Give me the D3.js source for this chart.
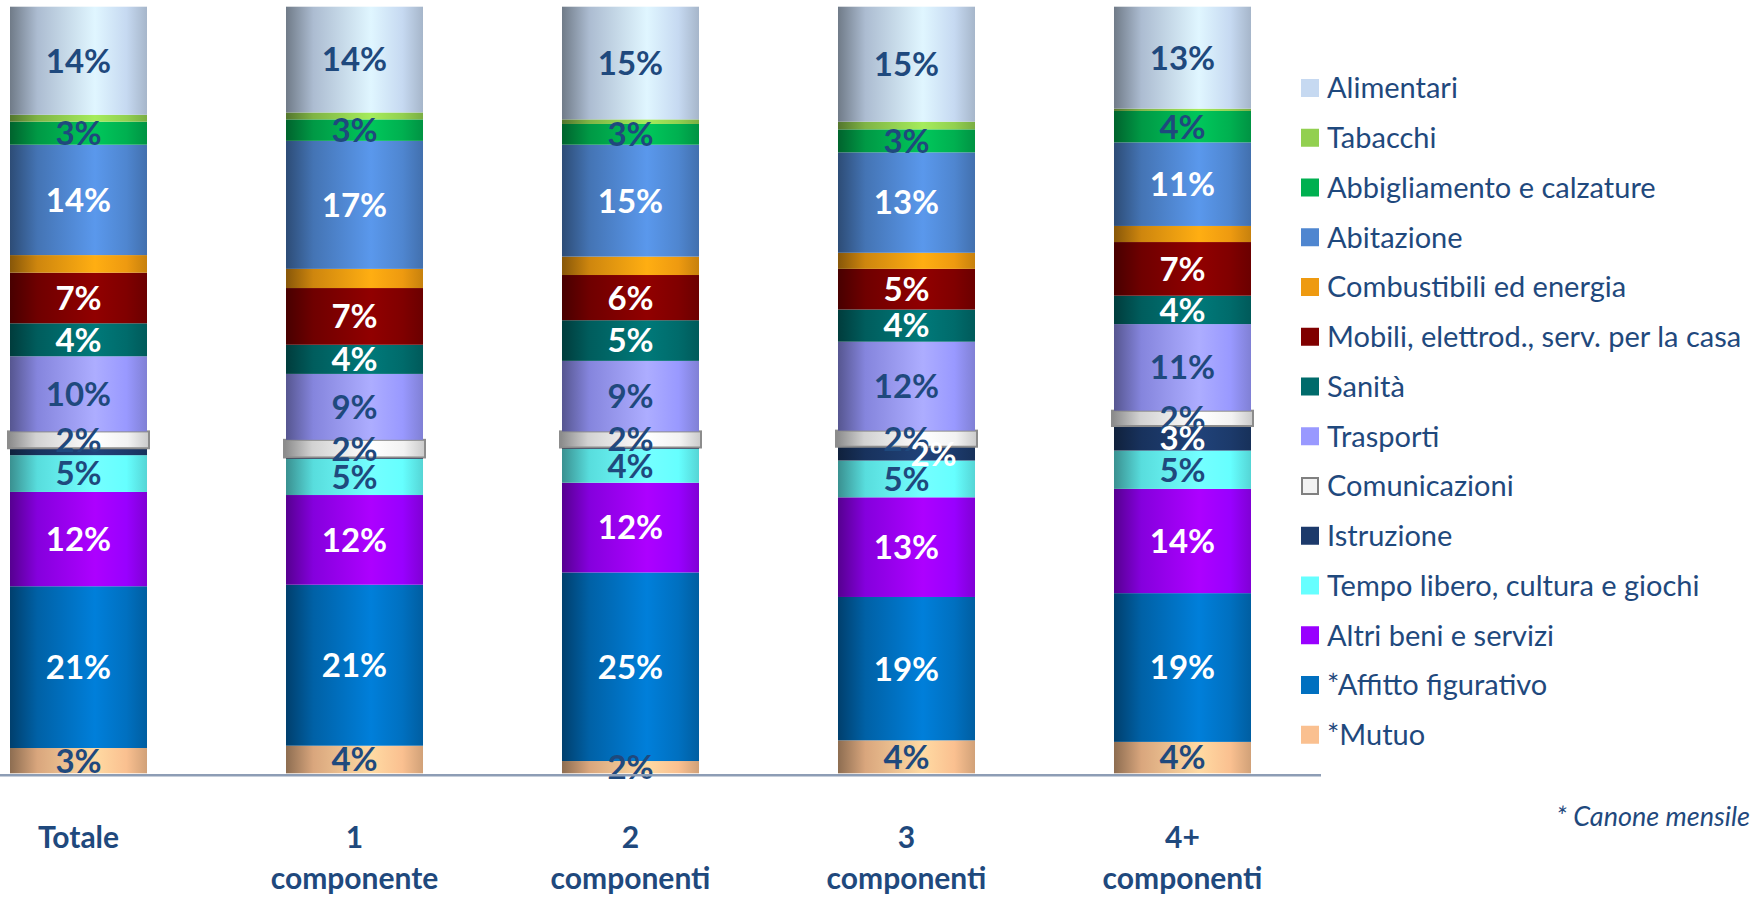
<!DOCTYPE html>
<html>
<head>
<meta charset="utf-8">
<script src="https://cdn.jsdelivr.net/npm/d3@7"></script>
<style>
  body { margin: 0; background: #fff; }
  svg { display: block; font-family: Lato, "Open Sans", sans-serif; }
</style>
</head>
<body>
<svg id="chart" width="1763" height="902"></svg>
<script>
// x axis categories
const categories = ["Totale", "1 componente", "2 componenti", "3 componenti", "4+ componenti"];

// spending items, legend order (top of the bar first)
const items = [
  "Alimentari", "Tabacchi", "Abbigliamento e calzature", "Abitazione",
  "Combustibili ed energia", "Mobili, elettrod., serv. per la casa", "Sanità",
  "Trasporti", "Comunicazioni", "Istruzione", "Tempo libero, cultura e giochi",
  "Altri beni e servizi", "*Affitto figurativo", "*Mutuo"
];

// shares (%) per category, same order as items
const shareTotale = [14.1, 0.9, 3.0, 14.4, 2.3, 6.6, 4.3, 9.8, 2.2, 0.9, 4.8, 12.3, 21.1, 3.3];
const share1comp  = [13.8, 0.9, 2.8, 16.7, 2.5, 7.4, 3.8, 8.6, 2.3, 0.2, 4.7, 11.7, 21.0, 3.6];
const share2comp  = [14.7, 0.6, 2.7, 14.6, 2.4, 5.9, 5.3, 9.2, 2.1, 0.2, 4.4, 11.7, 24.6, 1.6];
const share3comp  = [15.0, 1.0, 3.0, 13.1, 2.1, 5.3, 4.2, 11.6, 2.1, 1.8, 4.8, 13.0, 18.7, 4.3];
const share4comp  = [13.3, 0.3, 4.1, 10.9, 2.1, 7.0, 3.7, 11.3, 2.0, 3.2, 5.0, 13.6, 19.4, 4.1];
const shares = [shareTotale, share1comp, share2comp, share3comp, share4comp];

// items whose share is never written on the bar
const unlabelled = ["Tabacchi", "Combustibili ed energia"];
const note = "* Canone mensile";

// colours, same order as items
const colors = [
  "#C6D9F1", "#92D050", "#00B050", "#4F86D0", "#EE9A10", "#800000", "#006B6B",
  "#9999FF", "#F2F2F2", "#1C3A6B", "#66FFFF", "#9900FF", "#0070C0", "#FAC090"
];
const darkText = "#1F497D";

const plotTop = 6.7, plotBase = 773.3;

const svg = d3.select("#chart");

// table for d3.stack
const rows = categories.map((c, i) => {
  const r = { cat: c };
  items.forEach((k, j) => r[k] = shares[i][j]);
  return r;
});

const x = d3.scaleBand()
  .domain(categories)
  .range([10, 1251])
  .paddingInner(0.5036)
  .paddingOuter(0);

const y = d3.scaleLinear()
  .domain([0, 100])
  .range([plotBase, plotTop]);

const color = d3.scaleOrdinal().domain(items).range(colors);

// horizontal "cylinder" shading per item
const defs = svg.append("defs");
items.forEach((k, i) => {
  const base = d3.color(colors[i]);
  const g = defs.append("linearGradient")
    .attr("id", "grad" + i)
    .attr("x1", 0).attr("x2", 1).attr("y1", 0).attr("y2", 0);
  [[0, base.darker(1.6)], [0.2, base.darker(0.4)], [0.62, base.brighter(0.35)],
   [0.85, base], [1, base.darker(0.5)]].forEach(s => {
    g.append("stop").attr("offset", s[0]).attr("stop-color", s[1].formatHex());
  });
});

const stack = d3.stack().keys(items.slice().reverse());
const layers = stack(rows);

// bars
const gBars = svg.append("g");
gBars.selectAll("g.layer")
  .data(layers)
  .join("g")
  .attr("class", "layer")
  .each(function (layer) {
    const idx = items.indexOf(layer.key);
    const isCom = layer.key === "Comunicazioni";
    d3.select(this).selectAll("rect")
      .data(layer)
      .join("rect")
      .attr("x", d => x(d.data.cat) - (isCom ? 2 : 0))
      .attr("width", x.bandwidth() + (isCom ? 4 : 0))
      .attr("y", d => y(d[1]))
      .attr("height", d => y(d[0]) - y(d[1]))
      .attr("fill", "url(#grad" + idx + ")")
      .attr("stroke", isCom ? "#8C8C8C" : "none")
      .attr("stroke-width", isCom ? 2 : 0);
  });

// value labels
const labels = [];
categories.forEach((c, ci) => {
  let prevY = null;
  items.forEach((k, j) => {
    const layer = layers.find(l => l.key === k);
    const d = layer[ci];
    const v = d[1] - d[0];
    if (unlabelled.includes(k) || v < 1.5) return;
    const y0 = y(d[1]), y1 = y(d[0]);
    const cy = (y0 + y1) / 2;
    let dx = 0;
    // tiny segment right under another label: push it aside
    if (y1 - y0 < 18 && prevY !== null && cy - prevY < 24) dx = 27;
    const lum = d3.hcl(color(k)).l;
    labels.push({ x: x(c) + x.bandwidth() / 2 + dx, y: cy, text: Math.round(v) + "%",
                  fill: lum > 60 ? darkText : "#FFFFFF" });
    prevY = cy;
  });
});

svg.append("g").selectAll("text")
  .data(labels)
  .join("text")
  .attr("x", d => d.x)
  .attr("y", d => d.y)
  .attr("dy", "0.36em")
  .attr("text-anchor", "middle")
  .attr("font-size", 33)
  .attr("font-weight", "bold")
  .attr("fill", d => d.fill)
  .text(d => d.text);

// baseline
svg.append("line")
  .attr("x1", x.range()[0] - 10).attr("x2", x.range()[1] + 70)
  .attr("y1", plotBase + 2).attr("y2", plotBase + 2)
  .attr("stroke", "#8D9DB5")
  .attr("stroke-width", 2.5);

// category axis, two-line labels
const gx = svg.append("g")
  .attr("transform", `translate(0,${plotBase})`)
  .call(d3.axisBottom(x).tickSize(0).tickPadding(0));
gx.select(".domain").remove();
gx.attr("font-family", "Lato, 'Open Sans', sans-serif")
  .attr("font-size", 30)
  .attr("font-weight", "bold");
gx.selectAll(".tick text")
  .attr("fill", darkText)
  .attr("dy", null)
  .attr("y", 0)
  .each(function (d) {
    const t = d3.select(this);
    const sp = d.indexOf(" ");
    const parts = sp < 0 ? [d] : [d.slice(0, sp), d.slice(sp + 1)];
    t.text(null);
    parts.forEach((p, i) => {
      t.append("tspan").attr("x", 0).attr("y", 75 + i * 41).text(p);
    });
  });

// legend
const legend = svg.append("g").attr("transform", "translate(1301,88)");
const li = legend.selectAll("g")
  .data(items)
  .join("g")
  .attr("transform", (d, i) => `translate(0,${i * 49.75})`);
li.append("rect")
  .attr("x", d => d === "Comunicazioni" ? 1 : 0)
  .attr("y", d => d === "Comunicazioni" ? -8 : -9)
  .attr("width", d => d === "Comunicazioni" ? 16 : 18)
  .attr("height", d => d === "Comunicazioni" ? 16 : 18)
  .attr("fill", d => color(d))
  .attr("stroke", d => d === "Comunicazioni" ? "#808080" : "none")
  .attr("stroke-width", 2);
li.append("text")
  .attr("x", 26)
  .attr("dy", "0.36em")
  .attr("font-size", 29)
  .attr("fill", darkText)
  .text(d => d);

// footnote
svg.append("text")
  .attr("x", 1750)
  .attr("y", 826)
  .attr("text-anchor", "end")
  .attr("font-size", 27)
  .attr("font-style", "italic")
  .attr("fill", darkText)
  .text(note);
</script>
</body>
</html>
